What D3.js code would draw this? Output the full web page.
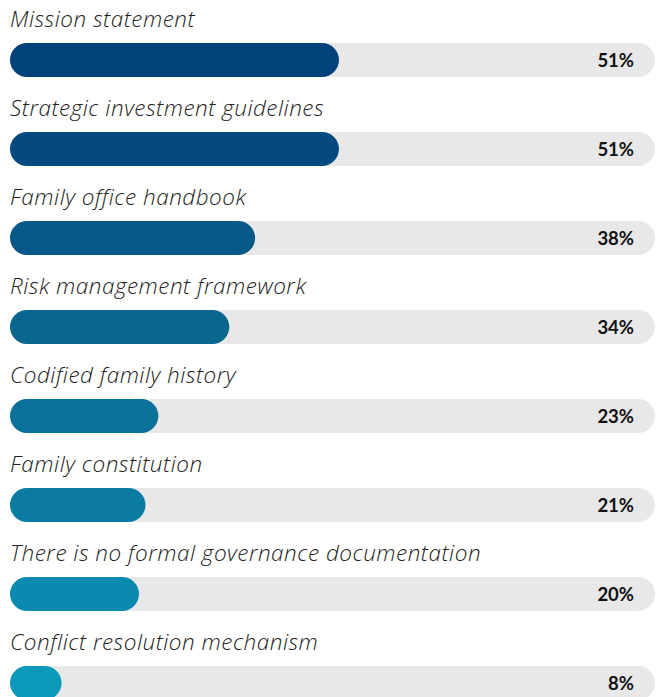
<!DOCTYPE html>
<html><head><meta charset="utf-8">
<script src="https://cdn.jsdelivr.net/npm/d3@7"></script>
<style>html,body{margin:0;padding:0;background:#fff;overflow:hidden}</style>
</head><body><svg id="c" width="662" height="697"></svg>
<script>
const categories = ["Mission statement","Strategic investment guidelines","Family office handbook","Risk management framework","Codified family history","Family constitution","There is no formal governance documentation","Conflict resolution mechanism"];
const values = [51,51,38,34,23,21,20,8];
const colors = ["#02427a","#044a80","#065888","#08668f","#0a719b","#0a7ca4","#0a8aaf","#0b98b9"];

const svg = d3.select("#c");
const x = d3.scaleLinear().domain([0,100]).range([10,655]);
const y = d3.scaleBand().domain(categories).range([0, 89*8]).paddingInner(0);
const barH = 34, barOff = 43;

const g = svg.selectAll("g.row").data(categories).join("g").attr("class","row")
  .attr("transform", d => `translate(0,${y(d)})`);

g.append("text").attr("x",10).attr("y",27)
  .attr("font-family","'Open Sans', sans-serif").attr("font-style","italic").attr("font-weight",300)
  .attr("font-size",22.5).attr("letter-spacing",0.5).attr("fill","#222").text(d=>d);

g.append("rect").attr("x",x(0)).attr("y",barOff).attr("width",x(100)-x(0)).attr("height",barH)
  .attr("rx",barH/2).attr("fill","#e8e8e8");

g.append("rect").attr("x",x(0)).attr("y",barOff).attr("width",(d,i)=>x(values[i])-x(0)).attr("height",barH)
  .attr("rx",barH/2).attr("fill",(d,i)=>colors[i]);

g.append("text").attr("x",634).attr("y",barOff+barH/2+6.5).attr("text-anchor","end")
  .attr("font-family","Lato, sans-serif").attr("font-weight",700).attr("font-size",18.5).attr("fill","#111")
  .text((d,i)=>values[i]+"%");
</script></body></html>
